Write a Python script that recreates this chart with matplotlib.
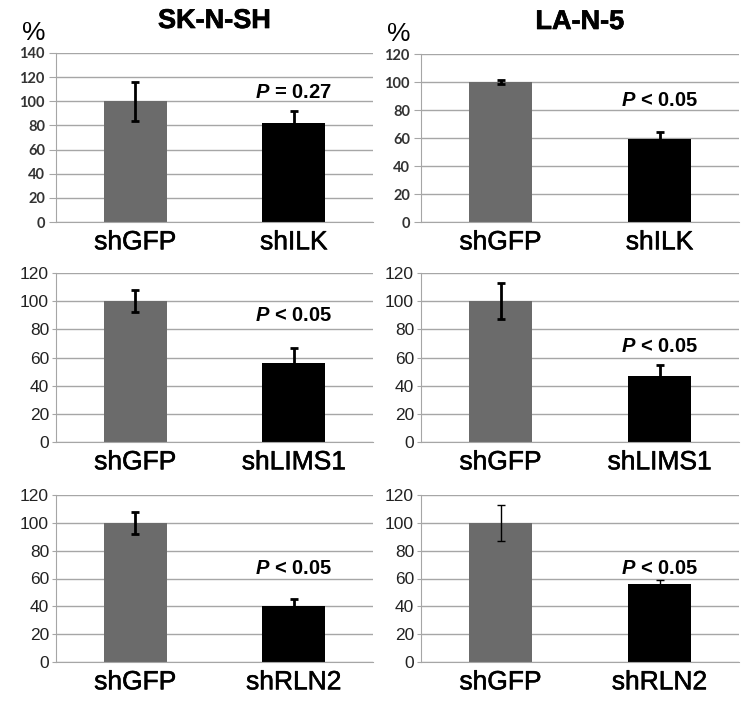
import matplotlib
matplotlib.use("Agg")
import matplotlib.pyplot as plt
import matplotlib.patheffects as pe

plt.rcParams['font.family'] = ['Liberation Sans', 'DejaVu Sans']
plt.rcParams['mathtext.fontset'] = 'custom'
plt.rcParams['mathtext.it'] = 'Liberation Sans:italic:bold'
plt.rcParams['mathtext.rm'] = 'Liberation Sans:bold'

# Data
cell_lines = ["SK-N-SH", "LA-N-5"]
knockdowns = ["shILK", "shLIMS1", "shRLN2"]
control = "shGFP"

# values[row][col] = (control, knockdown)
values = [
    [[100, 82], [100, 59]],
    [[100, 56], [100, 47]],
    [[100, 40], [100, 56]],
]
errors = [
    [[16, 10], [1.5, 5]],
    [[8, 11], [13, 8]],
    [[8, 5], [13, 3]],
]
p_labels = [
    [r"$P$ = 0.27", r"$P$ < 0.05"],
    [r"$P$ < 0.05", r"$P$ < 0.05"],
    [r"$P$ < 0.05", r"$P$ < 0.05"],
]
p_ypos = [
    [107, 87],
    [89.5, 68],
    [67.5, 67.5],
]
ymax = [[140, 120], [120, 120], [120, 120]]

bar_colors = ["#6b6b6b", "#000000"]
grid_color = "#a6a6a6"

fig = plt.figure(figsize=(7.47, 7.03), dpi=100)

W, H = 747, 703
col_x = [(56, 373), (421, 739)]
row_y = [(53, 222), (273, 442), (495, 662)]

thick = [pe.withStroke(linewidth=0.4, foreground='black')]

for r in range(3):
    for c in range(2):
        x0, x1 = col_x[c]
        yt, yb = row_y[r]
        if r == 0 and c == 1:
            yt = 54
        ax = fig.add_axes([x0 / W, 1 - yb / H, (x1 - x0) / W, (yb - yt) / H])
        cats = [control, knockdowns[r]]
        vals = values[r][c]
        errs = errors[r][c]
        lw = 1.0 if (r == 2 and c == 1) else 2.0
        ax.bar([0, 1], vals, width=0.4, color=bar_colors, zorder=2)
        ax.errorbar([0, 1], vals, yerr=errs, fmt='none', ecolor='black',
                    elinewidth=lw, capsize=3, capthick=lw, zorder=3)
        ax.set_xlim(-0.5, 1.5)
        ax.set_ylim(0, ymax[r][c])
        ax.set_yticks(range(0, ymax[r][c] + 1, 20))
        ax.set_xticks([0, 1])
        ax.set_xticklabels(cats, fontsize=19)
        for lab in ax.get_xticklabels():
            lab.set_path_effects(thick)
        ax.yaxis.grid(True, color=grid_color, linewidth=1.0, zorder=0)
        ax.set_axisbelow(True)
        for s in ['top', 'right']:
            ax.spines[s].set_visible(False)
        ax.spines['left'].set_color(grid_color)
        ax.spines['bottom'].set_color(grid_color)
        if r == 0:
            ax.tick_params(axis='y', length=5, color=grid_color, labelsize=10.5, pad=3)
            for lab in ax.get_yticklabels():
                lab.set_fontfamily(['Lato', 'DejaVu Sans'])
                lab.set_fontweight('bold')
                lab.set_color('#333333')
        else:
            ax.tick_params(axis='y', length=3, color=grid_color, labelsize=12.5, pad=2)
            for lab in ax.get_yticklabels():
                lab.set_color('#222222')
        ax.tick_params(axis='x', length=0, pad=6)
        ax.text(1, p_ypos[r][c], p_labels[r][c], ha='center', va='center',
                fontsize=14.5, fontweight='bold', zorder=4)
        if r == 0:
            ax.set_title(cell_lines[c], fontsize=19.5, fontweight='bold', pad=18,
                         path_effects=[pe.withStroke(linewidth=0.5, foreground='black')])
            ax.text(-0.07, 1.05, "%", transform=ax.transAxes, fontsize=19,
                    ha='center', va='bottom')

fig.savefig("out.png", dpi=100)
